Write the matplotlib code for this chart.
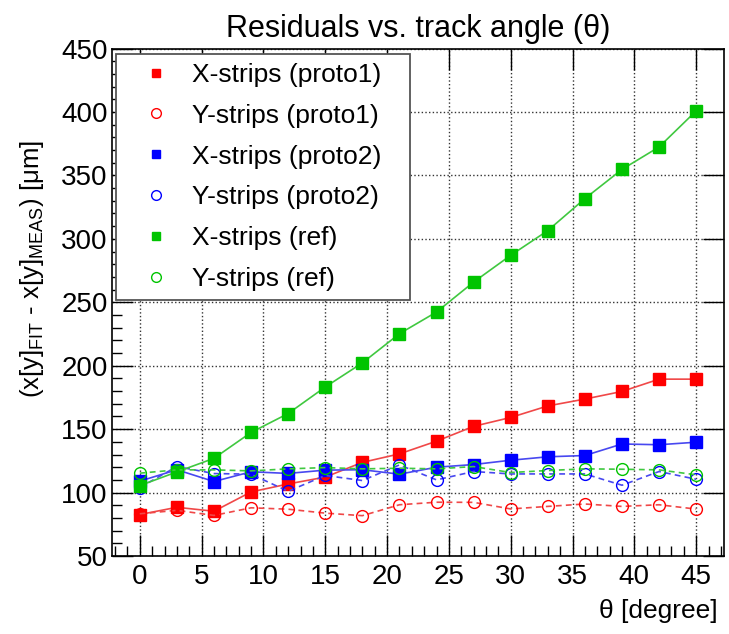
import matplotlib
matplotlib.use("Agg")
import matplotlib.pyplot as plt
from matplotlib.lines import Line2D
from matplotlib.ticker import MultipleLocator

plt.rcParams['font.family'] = ['Liberation Sans', 'DejaVu Sans']
plt.rcParams['mathtext.fontset'] = 'custom'
plt.rcParams['mathtext.rm'] = 'Liberation Sans'

# track angle (degree)
theta = [0, 3, 6, 9, 12, 15, 18, 21, 24, 27, 30, 33, 36, 39, 42, 45]

# residuals (um)
x_proto1 = [82.7, 88.4, 85.3, 100.5, 106.8, 112.2, 123.8, 130.5, 140.5, 152.2, 159.2, 168.3, 173.7, 179.7, 189.4, 189.4]
y_proto1 = [83.3, 86.0, 82.0, 88.0, 86.9, 83.8, 81.8, 90.4, 92.4, 92.3, 87.1, 89.1, 91.0, 89.1, 90.4, 87.0]
x_proto2 = [109.0, 118.0, 108.7, 116.4, 115.1, 117.7, 118.0, 114.5, 120.0, 122.1, 125.5, 128.2, 129.2, 138.3, 137.7, 139.7]
y_proto2 = [104.0, 120.5, 115.0, 114.5, 101.0, 113.5, 109.5, 121.8, 110.0, 116.6, 114.7, 114.7, 114.7, 105.8, 116.6, 110.5]
x_ref = [105.5, 116.3, 127.0, 147.4, 162.3, 183.2, 202.2, 225.2, 242.3, 265.9, 287.0, 306.5, 331.7, 354.7, 372.4, 400.8]
y_ref = [115.3, 117.9, 117.9, 117.1, 118.7, 119.7, 118.7, 119.2, 118.7, 120.5, 115.8, 117.4, 118.7, 118.4, 117.9, 114.0]

labels = ['X-strips (proto1)', 'Y-strips (proto1)', 'X-strips (proto2)',
          'Y-strips (proto2)', 'X-strips (ref)', 'Y-strips (ref)']

red, blue, green = '#ff0000', '#0000ff', '#00c400'
red_l, blue_l, green_l = '#f04848', '#4848f0', '#40c840'

fig = plt.figure(figsize=(7.29, 6.34), dpi=100)
ax = fig.add_axes([0.1536, 0.123, 0.8395, 0.8005])

dash = (0, (3.5, 2.5))
series = [
    (x_proto1, red, red_l, 's', '-'),
    (y_proto1, red, red_l, 'o', dash),
    (x_proto2, blue, blue_l, 's', '-'),
    (y_proto2, blue, blue_l, 'o', dash),
    (x_ref, green, green_l, 's', '-'),
    (y_ref, green, green_l, 'o', dash),
]
handles = []
for (vals, c, cl, m, ls), lab in zip(series, labels):
    filled = m == 's'
    ax.plot(theta, vals, color=cl, lw=1.2, linestyle=ls, marker=m,
            markersize=8 if filled else 8.5,
            markerfacecolor=c if filled else 'none',
            markeredgecolor=c, markeredgewidth=1.0, zorder=3)
    handles.append(Line2D([], [], linestyle='none', marker=m,
                          markersize=6 if filled else 7,
                          markerfacecolor=c if filled else 'none',
                          markeredgecolor=c, markeredgewidth=1.0, label=lab))

ax.set_xlim(-2.25, 47.25)
ax.set_ylim(50, 450)
ax.xaxis.set_major_locator(MultipleLocator(5))
ax.xaxis.set_minor_locator(MultipleLocator(1))
ax.yaxis.set_major_locator(MultipleLocator(50))
ax.yaxis.set_minor_locator(MultipleLocator(10))
ax.tick_params(which='both', direction='in', labelsize=20, width=1.0)
ax.tick_params(which='major', length=15)
ax.tick_params(which='minor', length=7)
ax.tick_params(axis='x', which='major', pad=6)
ax.tick_params(axis='y', which='major', pad=3)
ax.tick_params(top=True, right=True, which='major')
for sp in ax.spines.values():
    sp.set_linewidth(1.2)

ax.grid(True, which='major', linestyle=':', color='#333333', linewidth=1.0)
ax.set_axisbelow(True)

ax.set_title('Residuals vs. track angle (θ)', fontsize=22, y=1.0226, pad=0)
ax.set_xlabel('θ [degree]', fontsize=19)
ax.xaxis.set_label_coords(0.99, -0.085)
ax.xaxis.label.set_horizontalalignment('right')
ax.set_ylabel(r'(x[y]$_{\mathregular{FIT}}$ - x[y]$_{\mathregular{MEAS}}$) [μm]', fontsize=18.5)
ax.yaxis.set_label_coords(-0.108, 0.566)

leg = ax.legend(handles=handles, loc='upper left', mode='expand',
                bbox_to_anchor=(0.0065, 0.5, 0.48, 0.49),
                fontsize=19, frameon=True, fancybox=False,
                borderpad=0.35, handlelength=2.3, handletextpad=0.25,
                labelspacing=0.64, borderaxespad=0)
leg.get_frame().set_edgecolor('#555555')
leg.get_frame().set_linewidth(1.3)
leg.get_frame().set_alpha(1)

fig.savefig('out.png', dpi=100)
